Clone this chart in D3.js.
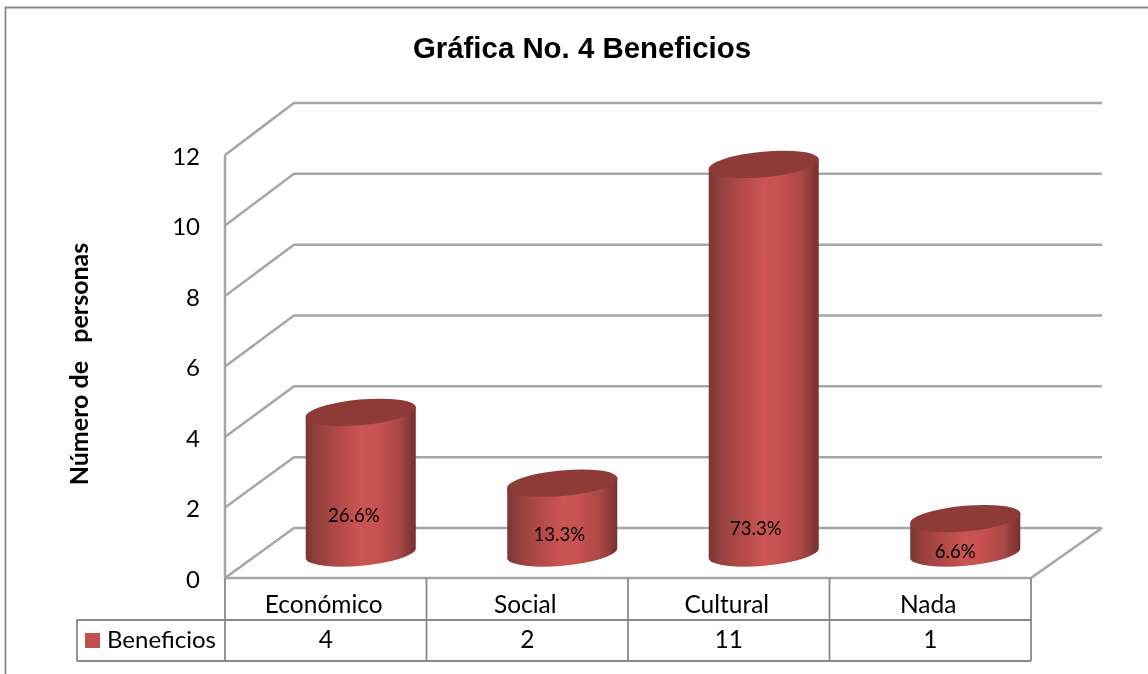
<!DOCTYPE html>
<html lang="es">
<head>
<meta charset="utf-8">
<title>Gráfica No. 4 Beneficios</title>
<script src="https://cdn.jsdelivr.net/npm/d3@7"></script>
<style>
html,body{margin:0;padding:0;background:#fff;overflow:hidden}
svg{display:block}
text{font-family:Lato,"Open Sans",sans-serif;fill:#000}
</style>
</head>
<body>
<svg id="chart" width="1148" height="674"></svg>
<script>
const chartTitle = "Gráfica No. 4 Beneficios";
const yAxisTitle = "Número de   personas";
const seriesName = "Beneficios";
const categories = ["Económico", "Social", "Cultural", "Nada"];
const values = [4, 2, 11, 1];
const percentLabels = ["26.6%", "13.3%", "73.3%", "6.6%"];
const yTicks = [0, 2, 4, 6, 8, 10, 12];

// layout
const W = 1148, H = 674;
const frontLeft = 225, frontRight = 1031;
const depthX = 71;
const wallDX = 69;
const tableRow1 = 620, tableBottom = 661, legendLeft = 77;
const lineGrey = "#a6a6a6", tableGrey = "#8a8a8a";
const barColor = "#c0504d";
// manual nudges of the percent labels relative to each bar foot (dx, dy)
const labelNudge = [[-7, -39], [-3, -20], [-8, -26], [-10, -3]];

const svg = d3.select("#chart");
const defs = svg.append("defs");
defs.append("filter").attr("id", "soft")
  .attr("filterUnits", "userSpaceOnUse")
  .attr("x", 0).attr("y", 0).attr("width", W).attr("height", H)
  .append("feGaussianBlur").attr("stdDeviation", 0.5);

const grad = defs.append("linearGradient").attr("id", "cyl")
  .attr("x1", "0%").attr("x2", "100%").attr("y1", "0%").attr("y2", "0%");
[[0, "#7a3533"], [0.1, "#93403e"], [0.3, "#b34a48"], [0.5, "#cb5452"], [0.66, "#c65150"], [0.85, "#a84745"], [0.96, "#843735"], [1, "#743230"]]
  .forEach(([o, c]) => grad.append("stop").attr("offset", o).attr("stop-color", c));

const root = svg.append("g").attr("filter", "url(#soft)");

// scales
const x = d3.scaleBand().domain(categories).range([frontLeft, frontRight]);
const yFront = d3.scaleLinear().domain([0, 12]).range([578, 155]);
const yBack = d3.scaleLinear().domain([0, 12]).range([528, 103]);
const yBar = d3.scaleLinear().domain([0, 12]).range([554, 129]);

// outer frame
root.append("path")
  .attr("d", `M5.5,${H}V7.5H${W}`)
  .attr("fill", "none").attr("stroke", tableGrey).attr("stroke-width", 1.8);

// title
root.append("text").attr("x", 582).attr("y", 58)
  .attr("text-anchor", "middle")
  .style("font-family", "'Liberation Sans',Arial,sans-serif")
  .style("font-weight", 700).style("font-size", "29.4px")
  .text(chartTitle);

// walls: gridlines
const grid = root.append("g").attr("fill", "none").attr("stroke", lineGrey).attr("stroke-width", 2.5);
grid.selectAll("path").data(yTicks).join("path")
  .attr("d", d => `M${frontLeft},${yFront(d)}L${frontLeft + wallDX},${yBack(d)}H${frontRight + depthX}`);
// axis + floor
grid.append("path").attr("d", `M${frontLeft},${yFront(12)}V${yFront(0)}H${frontRight}L${frontRight + depthX},${yBack(0)}`);

// y tick labels via axis
const axisG = root.append("g").attr("transform", `translate(${frontLeft},0)`)
  .call(d3.axisLeft(yFront).tickValues(yTicks).tickSize(0).tickPadding(25).tickFormat(d3.format("d")));
axisG.select(".domain").remove();
axisG.selectAll("text").style("font-size", "24px").style("font-family", "Lato,sans-serif").attr("dy", "0.38em");

// y axis title
root.append("text")
  .attr("transform", "translate(88,364) rotate(-90)")
  .attr("text-anchor", "middle")
  .style("font-weight", 700).style("font-size", "25px")
  .style("white-space", "pre")
  .text(yAxisTitle);

// cylinders
const rx = 55.4, ry = 12.8, rot = -5.2, halfW = 55, tilt = 5;
const cx = d => x(d) + x.bandwidth() / 2 + 35;
const bars = root.append("g").selectAll("g")
  .data(categories.map((c, i) => ({c, v: values[i], p: percentLabels[i], n: labelNudge[i]})))
  .join("g");
bars.append("path")
  .attr("fill", "url(#cyl)")
  .attr("d", d => {
    const xc = cx(d.c), t = yBar(d.v), b = yBar(0);
    return `M${xc - halfW},${t + tilt}L${xc - halfW},${b + tilt}` +
      `A${rx},${ry} ${rot} 0 0 ${xc + halfW},${b - tilt}` +
      `L${xc + halfW},${t - tilt}Z`;
  });
bars.append("ellipse")
  .attr("rx", rx).attr("ry", ry)
  .attr("fill", "#8e3a38")
  .attr("transform", d => `translate(${cx(d.c)},${yBar(d.v)}) rotate(${rot})`);
bars.append("text")
  .attr("x", d => cx(d.c) + d.n[0])
  .attr("y", d => yBar(0) + d.n[1])
  .attr("text-anchor", "middle")
  .attr("dy", "0.35em")
  .style("font-size", "18.6px")
  .text(d => d.p);

// data table
const tbl = root.append("g").attr("fill", "none").attr("stroke", tableGrey).attr("stroke-width", 1.8);
tbl.append("path").attr("d", `M${legendLeft},${tableBottom}V${tableRow1}H${frontRight}M${legendLeft},${tableBottom}H${frontRight}`);
tbl.selectAll("line").data([...categories.map(c => x(c)), frontRight]).join("line")
  .attr("x1", d => d).attr("x2", d => d).attr("y1", yFront(0)).attr("y2", tableBottom);

const cells = root.append("g").attr("text-anchor", "middle").style("font-size", "24.5px");
cells.selectAll(".cat").data(categories).join("text").attr("class", "cat")
  .attr("x", d => x(d) + x.bandwidth() / 2 - 2).attr("y", 613).text(d => d);
cells.selectAll(".val").data(values).join("text").attr("class", "val")
  .attr("x", (d, i) => x(categories[i]) + x.bandwidth() / 2).attr("y", 648).text(d => d);

// legend key
root.append("rect").attr("x", 85).attr("y", 633).attr("width", 15).attr("height", 15).attr("fill", barColor);
root.append("text").attr("x", 107).attr("y", 648).style("font-size", "24px").text(seriesName);
</script>
</body>
</html>
